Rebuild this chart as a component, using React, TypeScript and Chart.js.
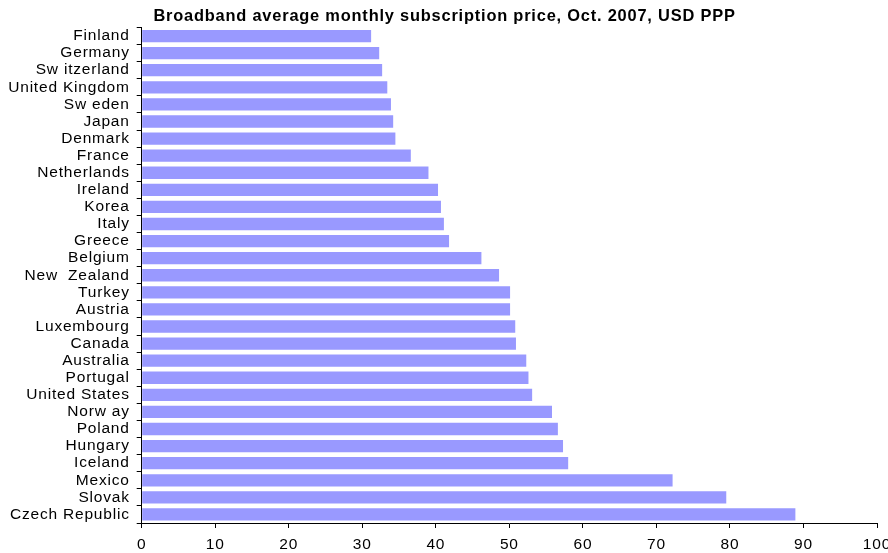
import React, { useEffect, useRef } from "react";
import { Chart, registerables } from "chart.js";

Chart.register(...registerables);

const countries = [
  "Finland", "Germany", "Sw itzerland", "United Kingdom", "Sw eden", "Japan", "Denmark",
  "France", "Netherlands", "Ireland", "Korea", "Italy", "Greece", "Belgium", "New  Zealand",
  "Turkey", "Austria", "Luxembourg", "Canada", "Australia", "Portugal", "United States",
  "Norw ay", "Poland", "Hungary", "Iceland", "Mexico", "Slovak", "Czech Republic",
];

const prices = [
  31.2, 32.3, 32.7, 33.4, 33.9, 34.2, 34.5, 36.6, 39.0, 40.3, 40.7, 41.1, 41.8, 46.2, 48.6,
  50.1, 50.1, 50.8, 50.9, 52.3, 52.6, 53.1, 55.8, 56.6, 57.3, 58.0, 72.2, 79.5, 88.9,
];

const xTicks = [0, 10, 20, 30, 40, 50, 60, 70, 80, 90, 100];

const titleText = "Broadband average monthly subscription price, Oct. 2007, USD PPP";

const FONT = "'Liberation Sans', Arial, sans-serif";

export default function App() {
  const ref = useRef<HTMLCanvasElement | null>(null);

  useEffect(() => {
    if (!ref.current) return;
    const spacingPlugin = {
      id: "spacing",
      afterLayout(chart: any) {
        const t = chart.titleBlock;
        if (t) t.left += 12;
      },
      beforeDraw(chart: any) {
        (chart.ctx as any).letterSpacing = "0.8px";
      },
    };
    const chart = new Chart(ref.current, {
      type: "bar",
      data: {
        labels: countries,
        datasets: [
          {
            data: prices,
            backgroundColor: "#9999FF",
            borderWidth: 0,
            barPercentage: 0.72,
            categoryPercentage: 1,
          },
        ],
      },
      plugins: [spacingPlugin],
      options: {
        indexAxis: "y",
        responsive: false,
        animation: false,
        layout: { padding: { left: 0, right: 11, top: 0, bottom: 0 } },
        plugins: {
          legend: { display: false },
          tooltip: { enabled: false },
          title: {
            display: true,
            text: titleText,
            color: "#000",
            font: { family: FONT, size: 16.4, weight: "bold", lineHeight: 1 },
            padding: { top: 8, bottom: 3.1 },
          },
        },
        scales: {
          x: {
            min: 0,
            max: 100,
            afterBuildTicks(scale: any) {
              scale.ticks = xTicks.map((v) => ({ value: v }));
            },
            afterFit(scale: any) {
              scale.height = 30;
              scale.paddingLeft = 0;
              scale.paddingRight = 0;
            },
            grid: {
              drawOnChartArea: false,
              drawTicks: true,
              tickLength: 5,
              color: "#000",
            },
            border: { display: true, color: "#000", width: 1 },
            ticks: {
              color: "#000",
              padding: 7,
              maxRotation: 0,
              font: { family: FONT, size: 15.5 },
            },
          },
          y: {
            afterFit(scale: any) {
              scale.width = 141.7;
            },
            grid: {
              offset: true,
              drawOnChartArea: false,
              drawTicks: true,
              tickLength: 5,
              color: "#000",
            },
            border: { display: true, color: "#000", width: 1 },
            ticks: {
              color: "#000",
              padding: 7,
              autoSkip: false,
              font: { family: FONT, size: 15.5 },
            },
          },
        },
      },
    } as any);
    return () => chart.destroy();
  }, []);

  return (
    <div style={{ position: "fixed", left: 0, top: 0, width: 888, height: 553, background: "#fff" }}>
      <canvas ref={ref} width={888} height={553} />
    </div>
  );
}
